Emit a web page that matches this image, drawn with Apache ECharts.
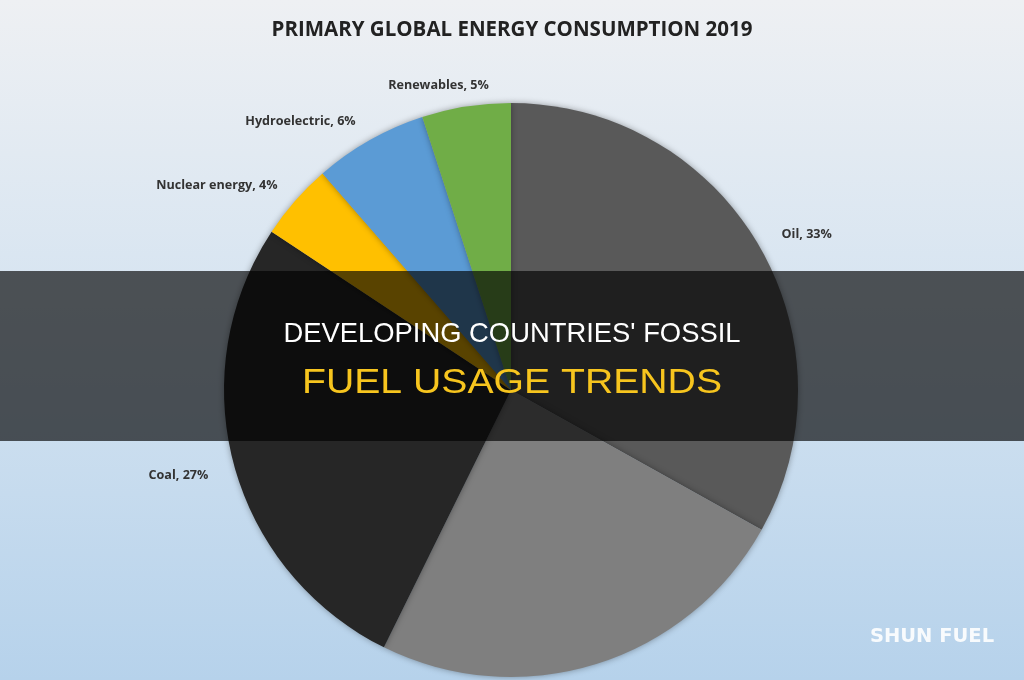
<!DOCTYPE html>
<html>
<head>
<meta charset="utf-8">
<script src="https://cdn.jsdelivr.net/npm/echarts@6/dist/echarts.min.js"></script>
<style>
  html, body { margin: 0; padding: 0; }
  #chart { width: 1024px; height: 680px; }
</style>
</head>
<body>
<div id="chart"></div>
<script>
// share of primary energy, clockwise from 12 o'clock
const sources = ['Oil', 'Natural gas', 'Coal', 'Nuclear energy', 'Hydroelectric', 'Renewables']
const shares = [33.1, 24.2, 27.0, 4.3, 6.4, 5.0]
const sliceColors = ['#595959', '#7f7f7f', '#262626', '#ffc000', '#5b9bd5', '#70ad47']
const hiddenLabels = ['Natural gas']

// nudges so the labels sit where the original (Excel) placed them
const labelNudge = {
  'Oil': [0, -3],
  'Coal': [-1, 7],
  'Nuclear energy': [4, -6],
  'Hydroelectric': [4, -7],
  'Renewables': [36, -7]
}

const bannerFont = '"Liberation Sans", Arial, sans-serif'

// squeeze banner text to the width it has in the picture
function fitScale(text, font, target) {
  const ctx = document.createElement('canvas').getContext('2d')
  ctx.font = font
  return target / ctx.measureText(text).width
}

const line1 = "DEVELOPING COUNTRIES' FOSSIL"
const line2 = 'FUEL USAGE TRENDS'
const font1 = `28px ${bannerFont}`
const font2 = `35px ${bannerFont}`

const chart = echarts.init(document.getElementById('chart'))

const option = {
  animation: false,
  backgroundColor: {
    type: 'linear', x: 0, y: 0, x2: 0, y2: 1,
    colorStops: [
      { offset: 0, color: '#eef0f3' },
      { offset: 0.45, color: '#d6e4f1' },
      { offset: 1, color: '#b6d2eb' }
    ]
  },
  title: {
    text: 'PRIMARY GLOBAL ENERGY CONSUMPTION 2019',
    left: 'center',
    top: 15,
    textStyle: {
      fontFamily: 'Open Sans',
      fontWeight: 'bold',
      fontSize: 20.5,
      color: '#222222'
    }
  },
  series: [{
    type: 'pie',
    center: [511, 390],
    radius: 287,
    startAngle: 90,
    clockwise: true,
    data: sources.map((name, i) => ({
      name,
      value: shares[i],
      itemStyle: { color: sliceColors[i] },
      label: { show: !hiddenLabels.includes(name) }
    })),
    itemStyle: {
      shadowBlur: 6,
      shadowColor: 'rgba(0,0,0,0.35)'
    },
    label: {
      position: 'outside',
      formatter: p => `${p.name}, ${Math.round(p.value)}%`,
      fontFamily: 'Open Sans',
      fontWeight: 'bold',
      fontSize: 12.6,
      color: '#333333'
    },
    labelLine: { show: false, length: 14, length2: 6 },
    labelLayout: params => {
      const d = labelNudge[sources[params.dataIndex]] || [0, 0]
      return { dx: d[0], dy: d[1] }
    }
  }],
  graphic: [
    {
      type: 'rect',
      shape: { x: 0, y: 271, width: 1024, height: 170 },
      style: { fill: 'rgba(0,0,0,0.65)' },
      z: 100
    },
    {
      type: 'text',
      x: 512, y: 334,
      scaleX: fitScale(line1, font1, 457),
      style: {
        text: line1,
        fill: '#ffffff',
        font: font1,
        align: 'center',
        verticalAlign: 'middle'
      },
      z: 101
    },
    {
      type: 'text',
      x: 512, y: 383,
      scaleX: fitScale(line2, font2, 420),
      style: {
        text: line2,
        fill: '#f7c51e',
        font: font2,
        align: 'center',
        verticalAlign: 'middle'
      },
      z: 101
    },
    {
      type: 'text',
      x: 932, y: 637,
      style: {
        text: 'SHUN FUEL',
        fill: 'rgba(255,255,255,0.9)',
        font: 'bold 19.5px "DejaVu Sans", sans-serif',
        align: 'center',
        verticalAlign: 'middle'
      },
      z: 101
    }
  ]
}

chart.setOption(option)
</script>
</body>
</html>
